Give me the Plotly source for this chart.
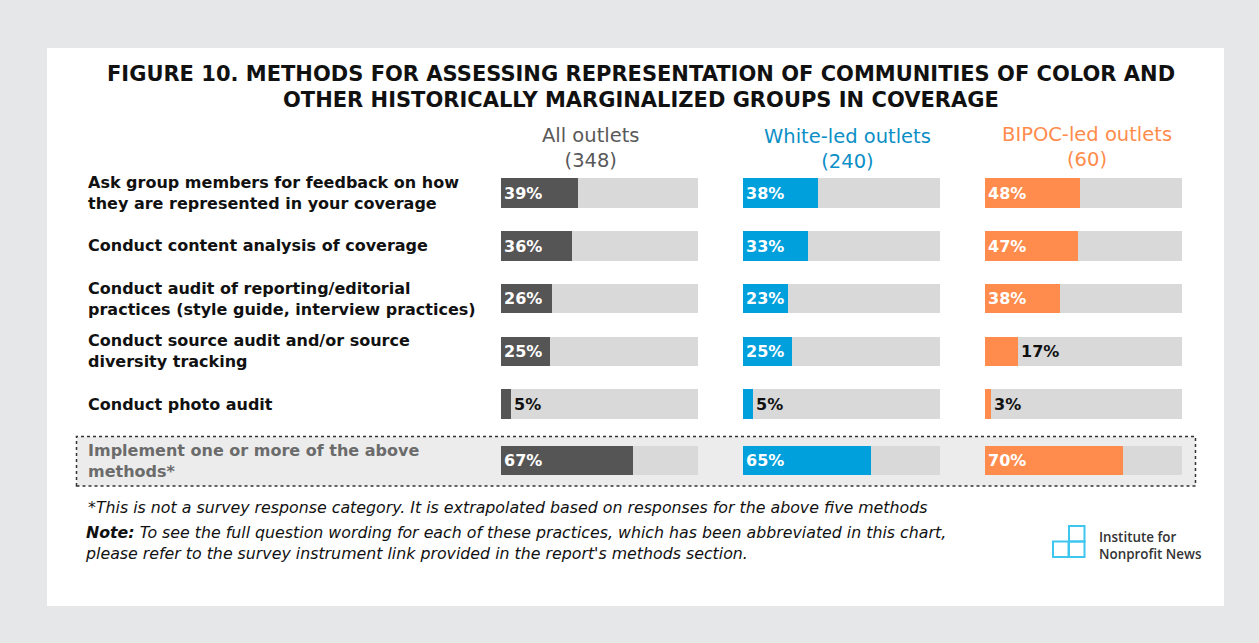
import plotly.graph_objects as go

# ---- data ----
methods = [
    "Ask group members for feedback on how\nthey are represented in your coverage",
    "Conduct content analysis of coverage",
    "Conduct audit of reporting/editorial\npractices (style guide, interview practices)",
    "Conduct source audit and/or source\ndiversity tracking",
    "Conduct photo audit",
    "Implement one or more of the above\nmethods*",
]
group_names = ["All outlets", "White-led outlets", "BIPOC-led outlets"]
group_counts = [348, 240, 60]
all_outlets = [39, 36, 26, 25, 5, 67]
white_led = [38, 33, 23, 25, 5, 65]
bipoc_led = [48, 47, 38, 17, 3, 70]

# ---- layout constants (pixels) ----
W, H = 1259, 643
ROW0_PX = 193.0          # centre of first row
ROW_STEP_PX = 52.8       # distance between rows
SUMMARY_GAP = 0.07       # extra space before the summary row (in rows)
BAR_WIDTH = 0.56
COL_PX = [(501, 698), (743, 940), (985, 1182)]
BAR_COLORS = ["#555555", "#00a0dc", "#ff8c4c"]
HEAD_COLORS = ["#595959", "#0b8fc6", "#ff8c4c"]
HEAD_X = [591, 847, 1087]
HEAD_Y = [147.5, 149, 147]
TRACK = "#d9d9d9"
WIDE = "DejaVu Sans"
LOGO_FONT = "Open Sans"

positions = [i + (SUMMARY_GAP if i == len(methods) - 1 else 0) for i in range(len(methods))]


def px(x):
    return x / W


def py(y):
    return 1 - y / H


fig = go.Figure()

series = [all_outlets, white_led, bipoc_led]
for j, vals in enumerate(series):
    ax = "x" if j == 0 else f"x{j + 1}"
    # full-width grey track
    fig.add_trace(go.Bar(
        x=[100] * len(vals), y=positions, orientation="h",
        marker=dict(color=TRACK, line=dict(width=0)), width=BAR_WIDTH,
        xaxis=ax, yaxis="y", hoverinfo="skip", showlegend=False,
    ))
    inside = [v >= 20 for v in vals]
    fig.add_trace(go.Bar(
        x=vals, y=positions, orientation="h",
        marker=dict(color=BAR_COLORS[j], line=dict(width=0)), width=BAR_WIDTH,
        text=[f"{v}%" for v in vals],
        textposition=["inside" if k else "outside" for k in inside],
        insidetextanchor="start",
        textangle=0,
        textfont=dict(family=WIDE, size=16, weight=700,
                      color=["#ffffff" if k else "#111111" for k in inside]),
        cliponaxis=False,
        xaxis=ax, yaxis="y", name=group_names[j], showlegend=False,
    ))

# axes
y_top = -ROW0_PX / ROW_STEP_PX
y_bot = (H - ROW0_PX) / ROW_STEP_PX
layout_axes = dict(
    yaxis=dict(range=[y_bot, y_top], domain=[0, 1], visible=False, fixedrange=True),
)
for j, (x0, x1) in enumerate(COL_PX):
    key = "xaxis" if j == 0 else f"xaxis{j + 1}"
    layout_axes[key] = dict(range=[0, 100], domain=[px(x0), px(x1)], visible=False,
                            anchor="y", fixedrange=True)

shapes = [
    # white card
    dict(type="rect", xref="paper", yref="paper", x0=px(47), x1=px(1224), y0=py(606), y1=py(48),
         fillcolor="#ffffff", line=dict(width=0), layer="below"),
    # summary row box
    dict(type="rect", xref="paper", yref="paper", x0=px(76.5), x1=px(1195.5), y0=py(486), y1=py(436.5),
         fillcolor="#ececec", line=dict(color="#333333", width=1.5, dash="dot"), layer="below"),
]
# logo squares
LOGO = "#3ec6ef"
for (lx0, ly0) in [(1069, 526), (1053, 541.5), (1069, 541.5)]:
    shapes.append(dict(type="rect", xref="paper", yref="paper", x0=px(lx0), x1=px(lx0 + 15.5),
                       y0=py(ly0 + 15.5), y1=py(ly0), fillcolor="rgba(0,0,0,0)",
                       line=dict(color=LOGO, width=2)))

annotations = []
# title
for text, yy in [("FIGURE 10. METHODS FOR ASSESSING REPRESENTATION OF COMMUNITIES OF COLOR AND", 74),
                 ("OTHER HISTORICALLY MARGINALIZED GROUPS IN COVERAGE", 100)]:
    annotations.append(dict(text=text, xref="paper", yref="paper", x=px(640.5), y=py(yy),
                            xanchor="center", yanchor="middle", showarrow=False,
                            font=dict(family=WIDE, size=21, weight=700, color="#111111")))
# column headers
for j in range(3):
    annotations.append(dict(text=f"{group_names[j]}<br>({group_counts[j]})", xref="paper", yref="paper",
                            x=px(HEAD_X[j]), y=py(HEAD_Y[j]), xanchor="center", yanchor="middle",
                            align="center", showarrow=False,
                            font=dict(family=WIDE, size=19.5, color=HEAD_COLORS[j])))
# row labels
for i, label in enumerate(methods):
    centre = ROW0_PX + positions[i] * ROW_STEP_PX
    colour = "#6b6b6b" if i == len(methods) - 1 else "#111111"
    annotations.append(dict(text=label.replace("\n", "<br>"), xref="paper", yref="paper",
                            x=px(86), y=py(centre), xanchor="left", yanchor="middle",
                            align="left", showarrow=False,
                            font=dict(family=WIDE, size=16, weight=700, color=colour)))
# footnotes
annotations.append(dict(
    text="<i>*This is not a survey response category. It is extrapolated based on responses for the above five methods</i>",
    xref="paper", yref="paper", x=px(86), y=py(507), xanchor="left", yanchor="middle", showarrow=False,
    font=dict(family=WIDE, size=15.8, color="#111111")))
annotations.append(dict(
    text="<b><i>Note:</i></b><i> To see the full question wording for each of these practices, which has been abbreviated in this chart,<br>"
         "please refer to the survey instrument link provided in the report's methods section.</i>",
    xref="paper", yref="paper", x=px(83), y=py(542.5), xanchor="left", yanchor="middle",
    align="left", showarrow=False,
    font=dict(family=WIDE, size=15.8, color="#111111")))
# logo text
annotations.append(dict(text="Institute for<br>Nonprofit News", xref="paper", yref="paper",
                        x=px(1097), y=py(545), xanchor="left", yanchor="middle", align="left",
                        showarrow=False,
                        font=dict(family=LOGO_FONT, size=13.4, weight=600, color="#333333")))

fig.update_layout(
    width=W, height=H,
    margin=dict(l=0, r=0, t=0, b=0),
    paper_bgcolor="#e6e7e8", plot_bgcolor="rgba(0,0,0,0)",
    barmode="overlay", bargap=0,
    shapes=shapes, annotations=annotations,
    **layout_axes,
)

fig.write_html("out.html")
